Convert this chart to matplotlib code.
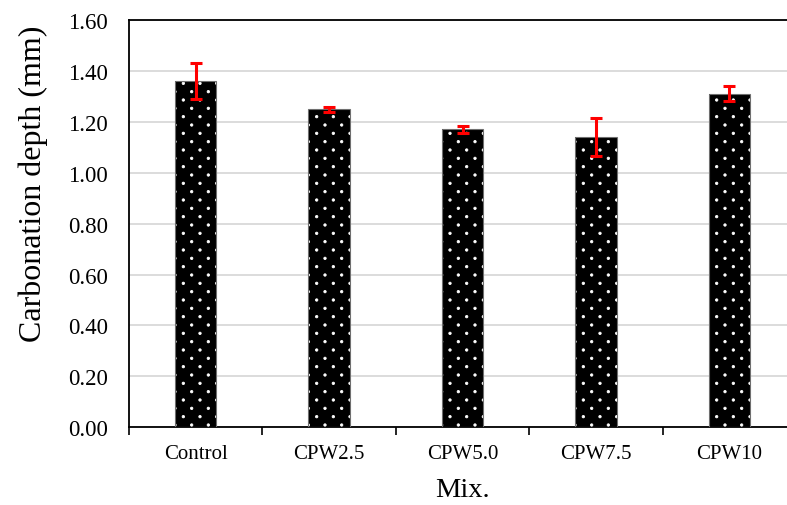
import matplotlib
matplotlib.use("Agg")
import matplotlib.pyplot as plt
import matplotlib.hatch as mhatch
from matplotlib.path import Path
import numpy as np

categories = ["Control", "CPW2.5", "CPW5.0", "CPW7.5", "CPW10"]
values = [1.36, 1.25, 1.17, 1.14, 1.31]
errors = [0.07, 0.01, 0.015, 0.075, 0.03]
yticks = [0.0, 0.2, 0.4, 0.6, 0.8, 1.0, 1.2, 1.4, 1.6]


class StaggeredDots(mhatch.HatchPatternBase):
    """Small filled dots: 6 per row, 12 staggered rows per hatch unit."""
    ncols = 6
    nrows = 12
    radius = 0.012

    def __init__(self, hatch, density):
        self.active = hatch.count('.') > 0
        circ = Path.unit_circle()
        self.sv = circ.vertices * self.radius
        self.sc = circ.codes
        if self.active:
            n_even = (self.nrows // 2 + 1) * (self.ncols + 1)
            n_odd = (self.nrows // 2) * self.ncols
            self.num_vertices = (n_even + n_odd) * len(self.sv)
        else:
            self.num_vertices = 0

    def set_vertices_and_codes(self, vertices, codes):
        vparts, cparts = [], []
        for r in range(self.nrows + 1):
            if r % 2 == 0:
                cols = np.arange(self.ncols + 1) / self.ncols
            else:
                cols = (np.arange(self.ncols) + 0.5) / self.ncols
            yy = r / self.nrows
            for xx in cols:
                vparts.append(self.sv + [xx, yy])
                cparts.append(self.sc)
        np.concatenate(vparts, out=vertices)
        np.concatenate(cparts, out=codes)


mhatch._hatch_types = [StaggeredDots if t is mhatch.SmallFilledCircles else t
                       for t in mhatch._hatch_types]

plt.rcParams['font.family'] = ['Liberation Serif']
plt.rcParams['hatch.color'] = 'white'
plt.rcParams['hatch.linewidth'] = 0.6

fig = plt.figure(figsize=(7.87, 5.06), dpi=100)
ax = fig.add_axes([129/787, (506-428.3)/506, 667/787, (428.3-21)/506])

x = np.arange(len(categories))
ax.bar(x, values, width=0.31, color='black', hatch='.', edgecolor='white',
       linewidth=0, zorder=3)
ax.bar(x, values, width=0.31, color='none', edgecolor='#6f6f6f',
       linewidth=0.8, zorder=4)
ax.errorbar(x, values, yerr=errors, fmt='none', ecolor='red', elinewidth=2.2,
            capsize=4.3, capthick=2.2, zorder=5)

ax.set_xlim(-0.5, len(categories) - 0.5)
ax.set_ylim(0, 1.6)
ax.set_yticks(yticks)
ax.set_yticklabels([f"{v:.2f}" for v in yticks], fontsize=16.5)
ax.tick_params(axis='y', length=0, pad=15)
ax.yaxis.grid(True, color='#d9d9d9', linewidth=1.3, zorder=0)
ax.set_axisbelow(True)

ax.set_xticks(x)
ax.set_xticklabels(categories, fontsize=15)
ax.set_xticks(np.arange(len(categories) + 1) - 0.5, minor=True)
ax.tick_params(axis='x', which='major', length=0, pad=12)
ax.tick_params(axis='x', which='minor', length=5.5, width=1.2, direction='out')

for s in ['left', 'bottom', 'top']:
    ax.spines[s].set_color('black')
    ax.spines[s].set_linewidth(1.3)
ax.spines['right'].set_visible(False)

ax.set_ylabel("Carbonation depth (mm)", fontsize=23)
ax.yaxis.set_label_coords(-0.122, 0.601)
ax.set_xlabel("Mix.", fontsize=20.5, labelpad=10)

fig.savefig("out.png", dpi=100)
